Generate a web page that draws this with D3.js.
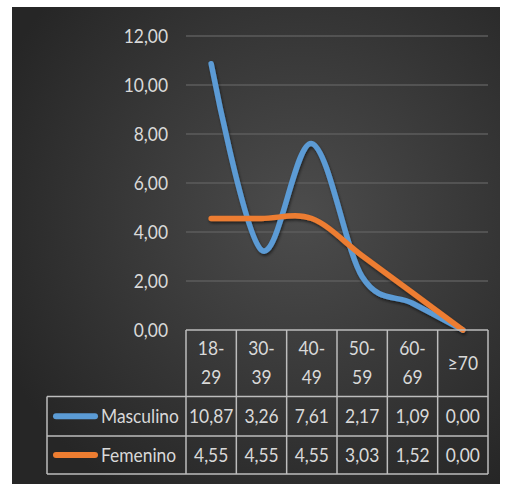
<!DOCTYPE html>
<html>
<head>
<meta charset="utf-8">
<script src="https://cdn.jsdelivr.net/npm/d3@7"></script>
<style>
  html, body { margin: 0; padding: 0; background: #ffffff; }
  svg { display: block; }
  text { font-family: Lato, "Open Sans", "DejaVu Sans Condensed", sans-serif; }
</style>
</head>
<body>
<svg id="chart" width="505" height="484"></svg>
<script>
// Age groups (two-line header labels) and the series per sex
const categories = ["18-29", "30-39", "40-49", "50-59", "60-69", "≥70"];
const headerLines = [["18-", "29"], ["30-", "39"], ["40-", "49"], ["50-", "59"], ["60-", "69"], ["≥70"]];
const masculino = [10.87, 3.26, 7.61, 2.17, 1.09, 0.00];
const femenino = [4.55, 4.55, 4.55, 3.03, 1.52, 0.00];
const seriesNames = ["Masculino", "Femenino"];
const seriesColors = ["#5b9bd5", "#ed7d31"];
const yTicks = [0, 2, 4, 6, 8, 10, 12];

const fmt = v => v.toFixed(2).replace(".", ",");
const FONT_SIZE = 20;
const SQUEEZE = 0.87;   // narrow the face horizontally
const TEXT_COLOR = "#d9d9d9";

const svg = d3.select("#chart");
const defs = svg.append("defs");

// Dark radial backdrop
const grad = defs.append("radialGradient")
  .attr("id", "bg").attr("gradientUnits", "userSpaceOnUse")
  .attr("cx", 300).attr("cy", 215).attr("r", 330);
grad.append("stop").attr("offset", "0%").attr("stop-color", "#4c4c4c");
grad.append("stop").attr("offset", "100%").attr("stop-color", "#262626");

const shadow = defs.append("filter").attr("id", "shadow")
  .attr("x", "-10%").attr("y", "-10%").attr("width", "120%").attr("height", "120%");
shadow.append("feDropShadow").attr("dx", 1).attr("dy", 2)
  .attr("stdDeviation", 1.5).attr("flood-color", "#000").attr("flood-opacity", 0.55);

svg.append("rect").attr("x", 12).attr("y", 7).attr("width", 488).attr("height", 477)
  .attr("fill", "url(#bg)");

// Condensed text helper
function label(parent, px, py, str, anchor) {
  return parent.append("g")
    .attr("transform", `translate(${px},${py}) scale(${SQUEEZE},1)`)
    .append("text")
    .attr("text-anchor", anchor || "start")
    .attr("dy", "0.36em")
    .attr("fill", TEXT_COLOR)
    .attr("font-size", FONT_SIZE)
    .text(str);
}

const plotLeft = 186, plotRight = 488, plotTop = 36, plotBottom = 330;

const x = d3.scaleBand().domain(categories).range([plotLeft, plotRight]).padding(0);
const y = d3.scaleLinear().domain([0, 12]).range([plotBottom, plotTop]);
const cx = c => x(c) + x.bandwidth() / 2;

// Horizontal gridlines
svg.append("g").selectAll("line")
  .data(yTicks.filter(t => t > 0))
  .join("line")
  .attr("x1", plotLeft).attr("x2", plotRight)
  .attr("y1", d => y(d)).attr("y2", d => y(d))
  .attr("stroke", "#5c5c5c").attr("stroke-width", 1.5);

// Value axis labels
const yg = svg.append("g");
yTicks.forEach(t => label(yg, 168, y(t), fmt(t), "end"));

// Smoothed series lines
const series = [masculino, femenino];
const line = d3.line()
  .x((d, i) => cx(categories[i]))
  .y(d => y(d))
  .curve(d3.curveCatmullRom.alpha(0));

svg.append("g").attr("filter", "url(#shadow)").selectAll("path")
  .data(series)
  .join("path")
  .attr("d", line)
  .attr("fill", "none")
  .attr("stroke", (d, i) => seriesColors[i])
  .attr("stroke-width", 5.5)
  .attr("stroke-linecap", "round")
  .attr("stroke-linejoin", "round");

// Data table beneath the plot
const tableLeft = 47;
const rowTops = [330, 396.5, 436, 474];
const tableStroke = "#bdbdbd";
const tg = svg.append("g");
const rules = tg.append("g");

// Horizontal rules
rules.append("line").attr("x1", plotLeft).attr("x2", plotRight)
  .attr("y1", rowTops[0]).attr("y2", rowTops[0]);
[1, 2, 3].forEach(r => {
  rules.append("line").attr("x1", tableLeft).attr("x2", plotRight)
    .attr("y1", rowTops[r]).attr("y2", rowTops[r]);
});
// Vertical rules
const bounds = categories.map(c => x(c)).concat([plotRight]);
bounds.forEach(b => {
  rules.append("line").attr("x1", b).attr("x2", b)
    .attr("y1", rowTops[0]).attr("y2", rowTops[3]);
});
rules.append("line").attr("x1", tableLeft).attr("x2", tableLeft)
  .attr("y1", rowTops[1]).attr("y2", rowTops[3]);
rules.selectAll("line").attr("stroke", tableStroke).attr("stroke-width", 1.5);

// Header labels
const headerMid = (rowTops[0] + rowTops[1]) / 2;
categories.forEach((c, i) => {
  const lines = headerLines[i];
  if (lines.length === 2) {
    label(tg, cx(c), headerMid - 15, lines[0], "middle");
    label(tg, cx(c), headerMid + 14, lines[1], "middle");
  } else {
    label(tg, cx(c), headerMid, lines[0], "middle");
  }
});

// Series rows with legend keys
series.forEach((vals, r) => {
  const mid = (rowTops[r + 1] + rowTops[r + 2]) / 2;
  tg.append("line").attr("x1", 56).attr("x2", 95).attr("y1", mid).attr("y2", mid)
    .attr("stroke", seriesColors[r]).attr("stroke-width", 6).attr("stroke-linecap", "round");
  label(tg, 101, mid, seriesNames[r], "start");
  vals.forEach((v, i) => label(tg, cx(categories[i]), mid, fmt(v), "middle"));
});
</script>
</body>
</html>
